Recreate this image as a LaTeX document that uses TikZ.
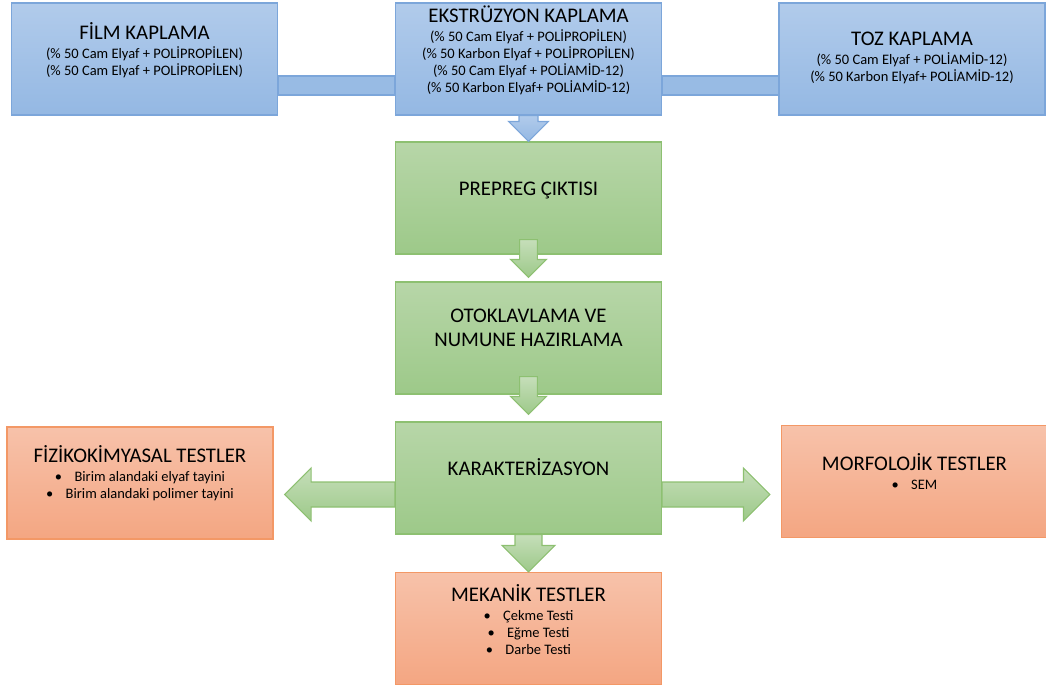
\documentclass[tikz,border=0pt]{standalone}
\usepackage{fontspec}
\setmainfont{Carlito}
\usepackage{tikz}
\usetikzlibrary{shapes,arrows,positioning}

\definecolor{blueTop}{RGB}{177,203,235}
\definecolor{blueBot}{RGB}{148,184,227}
\definecolor{blueLine}{RGB}{124,166,218}
\definecolor{blueBar}{RGB}{152,187,228}
\definecolor{greenTop}{RGB}{183,214,168}
\definecolor{greenBot}{RGB}{157,201,137}
\definecolor{greenLine}{RGB}{141,192,113}
\definecolor{orangeTop}{RGB}{247,194,170}
\definecolor{orangeBot}{RGB}{244,166,130}
\definecolor{orangeLine}{RGB}{243,152,102}

\newcommand{\bigtitle}{\fontsize{14.8}{17}\selectfont}
\newcommand{\blt}{\textbullet\hspace{0.85em}}
\newcommand{\boxtext}[2][0.19cm]{\raisebox{#1}[\height][\depth]{\begin{tabular}{@{}c@{}}#2\end{tabular}}}

\tikzstyle{stage} = [rectangle, draw, line width = 0.75pt, minimum width = 6.65cm, minimum height = 2.8cm, inner sep = 0pt, font = \fontsize{10.3}{12.1}\selectfont]
\tikzstyle{coating} = [stage, draw = blueLine, top color = blueTop, bottom color = blueBot]
\tikzstyle{process} = [stage, draw = greenLine, top color = greenTop, bottom color = greenBot]
\tikzstyle{testbox} = [stage, draw = orangeLine, top color = orangeTop, bottom color = orangeBot]
\tikzstyle{bar} = [draw = blueLine, line width = 0.75pt, fill = blueBar]
\tikzstyle{bluearrow} = [draw = blueLine, line width = 0.75pt, top color = blueTop, bottom color = blueBot]
\tikzstyle{greenarrow} = [draw = greenLine, line width = 0.75pt, top color = greenTop!80!white, bottom color = greenBot]

\tikzset{
  downarrow/.style 2 args = {to path = {([xshift=-#1]\tikztostart) -- ([xshift=-#1, yshift=#2]\tikztotarget) -- ([xshift=-#2, yshift=#2]\tikztotarget) -- (\tikztotarget) -- ([xshift=#2, yshift=#2]\tikztotarget) -- ([xshift=#1, yshift=#2]\tikztotarget) -- ([xshift=#1]\tikztostart) -- cycle}},
  leftarrow/.style 2 args = {to path = {([yshift=#1]\tikztostart) -- ([xshift=#2, yshift=#1]\tikztotarget) -- ([xshift=#2, yshift=#2]\tikztotarget) -- (\tikztotarget) -- ([xshift=#2, yshift=-#2]\tikztotarget) -- ([xshift=#2, yshift=-#1]\tikztotarget) -- ([yshift=-#1]\tikztostart) -- cycle}},
  rightarrow/.style 2 args = {to path = {([yshift=#1]\tikztostart) -- ([xshift=-#2, yshift=#1]\tikztotarget) -- ([xshift=-#2, yshift=#2]\tikztotarget) -- (\tikztotarget) -- ([xshift=-#2, yshift=-#2]\tikztotarget) -- ([xshift=-#2, yshift=-#1]\tikztotarget) -- ([yshift=-#1]\tikztostart) -- cycle}}
}

\begin{document}
\begin{tikzpicture}
			\useasboundingbox (0, 0) rectangle (26.15, -17.2);
			% Place nodes
			\node [coating] (film) at (3.6125, -1.475) {\boxtext{{\bigtitle FİLM KAPLAMA}\\[1.4pt] (\% 50 Cam Elyaf + POLİPROPİLEN)\\ (\% 50 Cam Elyaf + POLİPROPİLEN)}};
			\node [coating] (ekstr) at (13.2125, -1.475) {\boxtext{{\bigtitle EKSTRÜZYON KAPLAMA}\\[1.4pt] (\% 50 Cam Elyaf + POLİPROPİLEN)\\ (\% 50 Karbon Elyaf + POLİPROPİLEN)\\ (\% 50 Cam Elyaf + POLİAMİD-12)\\ (\% 50 Karbon Elyaf+ POLİAMİD-12)}};
			\node [coating] (toz) at (22.8, -1.475) {\boxtext[0cm]{{\bigtitle TOZ KAPLAMA}\\[1.4pt] (\% 50 Cam Elyaf + POLİAMİD-12)\\ (\% 50 Karbon Elyaf+ POLİAMİD-12)}};
			\node [process] (prepreg) at (13.2125, -4.95) {\boxtext[0.18cm]{\bigtitle PREPREG ÇIKTISI}};
			\node [process] (otoklav) at (13.2125, -8.45) {\boxtext{{\bigtitle OTOKLAVLAMA VE}\\[4.3pt] {\bigtitle NUMUNE HAZIRLAMA}}};
			\node [process] (karakter) at (13.2125, -11.95) {\boxtext[0.22cm]{\bigtitle KARAKTERİZASYON}};
			\node [testbox] (fiziko) at (3.5, -12.075) {\boxtext[0.2cm]{{\bigtitle FİZİKOKİMYASAL TESTLER}\\[1.4pt] \blt Birim alandaki elyaf tayini\\ \blt Birim alandaki polimer tayini}};
			\node [testbox] (morfo) at (22.8625, -12.0375) {\boxtext[0.18cm]{{\bigtitle MORFOLOJİK TESTLER}\\[1.4pt] \blt SEM}};
			\node [testbox] (mekanik) at (13.2125, -15.7125) {\boxtext[0.16cm]{{\bigtitle MEKANİK TESTLER}\\[1.4pt] \blt Çekme Testi\\ \blt Eğme Testi\\ \blt Darbe Testi}};

			% Arrow ends
			\coordinate (prepregbot) at ([yshift=0.375cm]prepreg.south);
			\coordinate (otoklavtop) at ([yshift=0.1cm]otoklav.north);
			\coordinate (otoklavbot) at ([yshift=0.45cm]otoklav.south);
			\coordinate (karaktertop) at ([yshift=0.175cm]karakter.north);
			\coordinate (karakterleft) at ([yshift=-0.4125cm]karakter.west);
			\coordinate (karakterright) at ([yshift=-0.4125cm]karakter.east);
			\coordinate (fizikotip) at ([xshift=0.275cm, yshift=-0.2875cm]fiziko.east);
			\coordinate (morfotip) at ([xshift=-0.275cm, yshift=-0.325cm]morfo.west);

			% Draw edges
			\path [bar] ([yshift=-0.425cm]film.east) rectangle ([yshift=-0.9cm]ekstr.west);
			\path [bar] ([yshift=-0.425cm]ekstr.east) rectangle ([yshift=-0.9cm]toz.west);
			\path [bluearrow, downarrow = {0.2375cm}{0.5cm}] (ekstr.south) to (prepreg.north);
			\path [greenarrow, downarrow = {0.22cm}{0.45cm}] (prepregbot) to (otoklavtop);
			\path [greenarrow, downarrow = {0.22cm}{0.45cm}] (otoklavbot) to (karaktertop);
			\path [greenarrow, downarrow = {0.3375cm}{0.6625cm}] (karakter.south) to (mekanik.north);
			\path [greenarrow, leftarrow = {0.3125cm}{0.6625cm}] (karakterleft) to (fizikotip);
			\path [greenarrow, rightarrow = {0.3125cm}{0.6625cm}] (karakterright) to (morfotip);
		\end{tikzpicture}
\end{document}
